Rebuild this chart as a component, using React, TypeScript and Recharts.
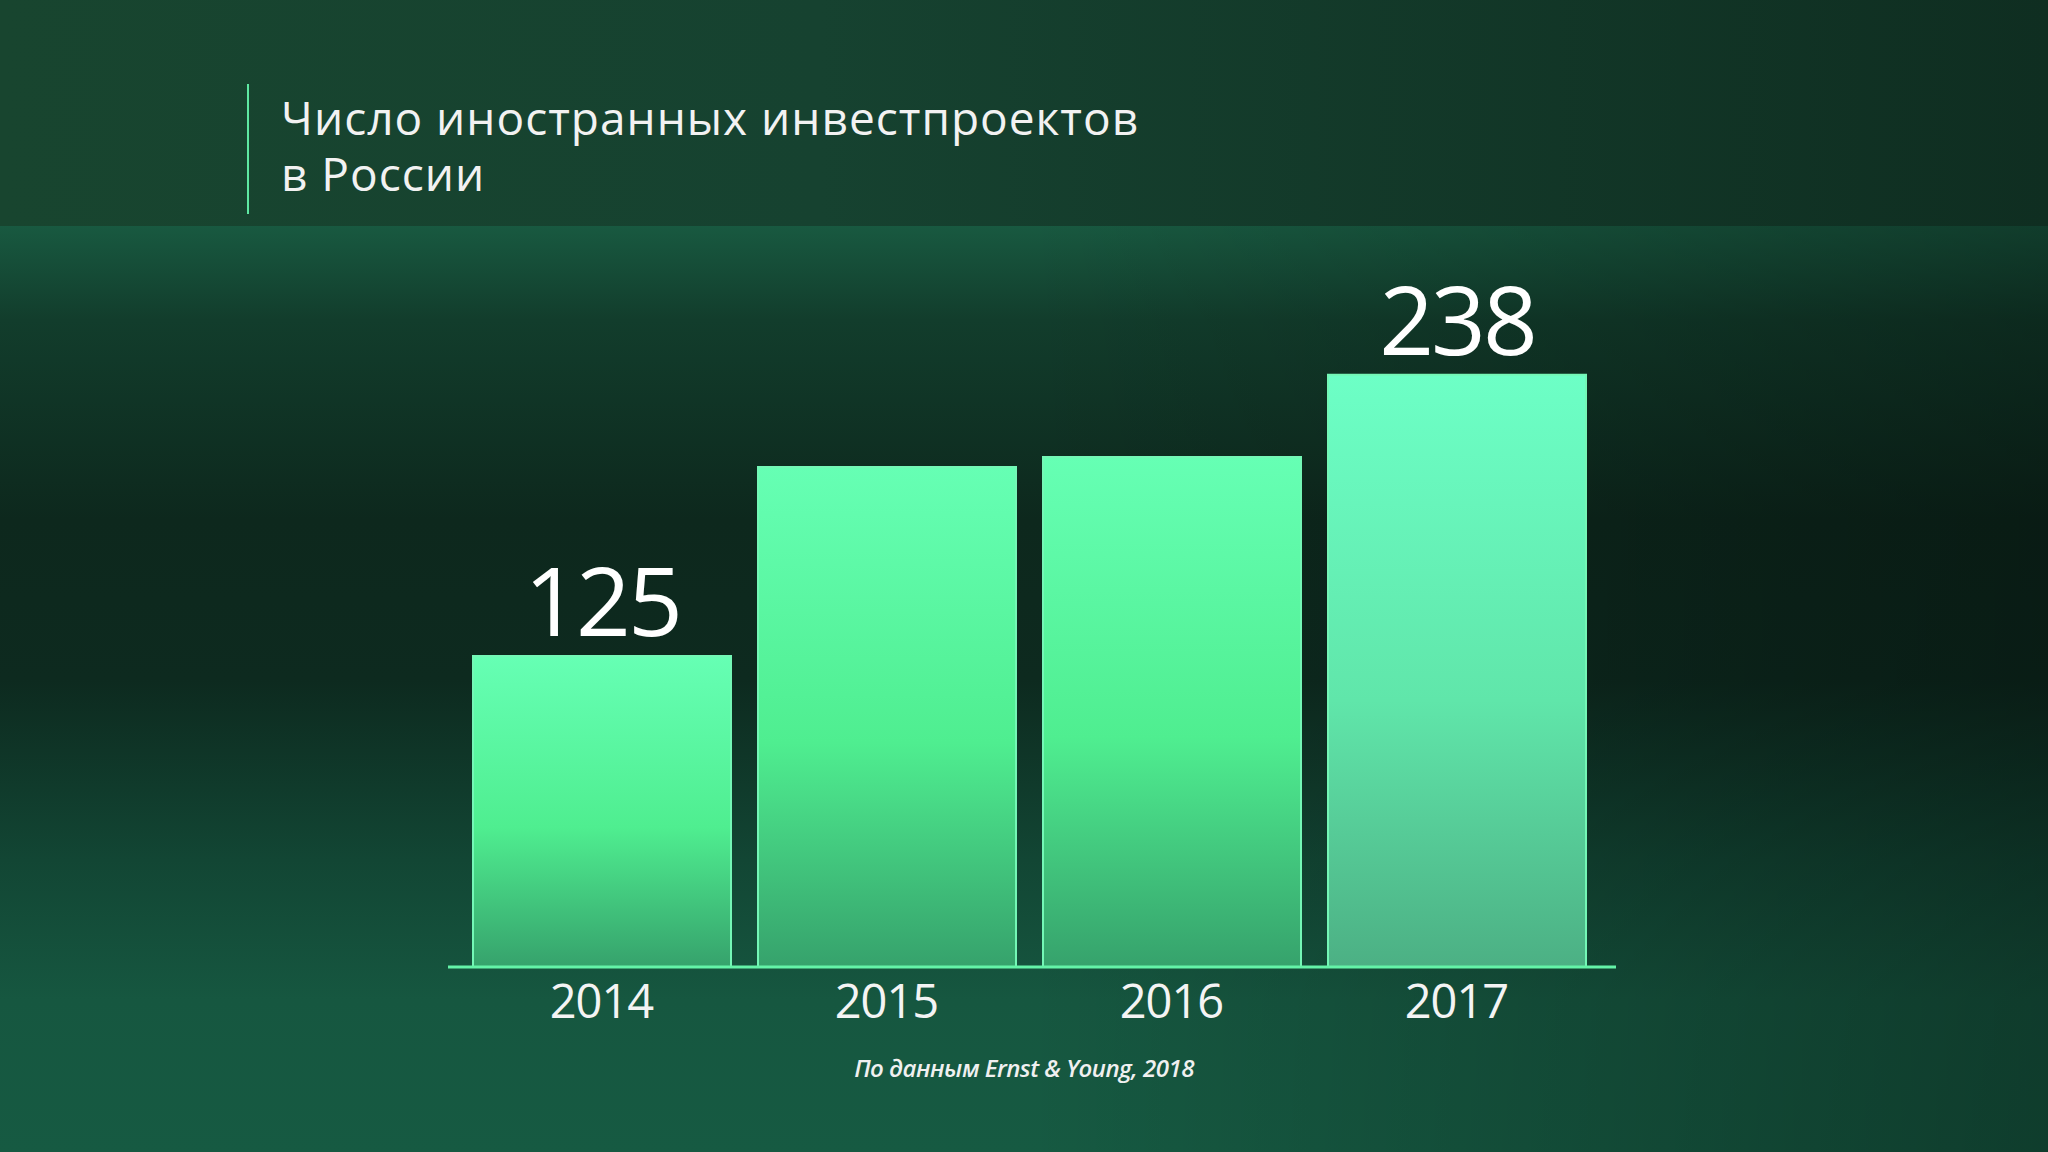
import { BarChart, Bar, XAxis, YAxis, LabelList, Cell } from "recharts";

// Число иностранных инвестпроектов в России (EY, 2018)
const years = ["2014", "2015", "2016", "2017"];
const projects = [125, 201, 205, 238];
const labeledYears = ["2014", "2017"];

const data = years.map((year, i) => ({ year, count: projects[i] }));

const FONT = "'Open Sans', Roboto, sans-serif";

function ValueLabel(props: any) {
  const { x, y, width, value, index } = props;
  if (!labeledYears.includes(years[index])) return null;
  return (
    <text
      x={x + width / 2}
      y={y - 20}
      textAnchor="middle"
      fill="#ffffff"
      fontSize={96}
      letterSpacing={-3}
      fontFamily={FONT}
    >
      {value}
    </text>
  );
}

export default function App() {
  return (
    <div
      style={{
        position: "absolute",
        left: 0,
        top: 0,
        width: 2048,
        height: 1152,
        overflow: "hidden",
        background:
          "linear-gradient(to right, rgba(0,0,0,0) 50%, rgba(0,0,0,0.32) 100%), linear-gradient(to bottom, #1d6c4d 0px, #1a6146 200px, #123d2c 320px, #0d281d 520px, #0d2a1f 680px, #124634 860px, #165740 1000px, #165a42 1152px)",
        fontFamily: FONT,
      }}
    >
      {/* title band */}
      <div
        style={{
          position: "absolute",
          left: 0,
          top: 0,
          width: 2048,
          height: 226,
          background:
            "linear-gradient(to right, #18452f 0%, #164230 40%, #0f2e21 100%)",
        }}
      />
      <div
        style={{
          position: "absolute",
          left: 247,
          top: 84,
          width: 2,
          height: 130,
          background: "#5ee8a2",
        }}
      />
      <div
        style={{
          position: "absolute",
          left: 281,
          top: 89,
          color: "#f2f2f2",
          fontSize: 46,
          letterSpacing: 1,
          lineHeight: "56px",
          fontWeight: 500,
        }}
      >
        Число иностранных инвестпроектов
        <br />в России
      </div>

      <div style={{ position: "absolute", left: 0, top: 0 }}>
        <BarChart
          width={2048}
          height={1152}
          data={data}
          margin={{ top: 340, right: 432, bottom: 105, left: 448 }}
        >
          <defs>
            <linearGradient id="barFill" x1="0" y1="0" x2="0" y2="1">
              <stop offset="0%" stopColor="#66ffb4" />
              <stop offset="55%" stopColor="#4fee90" />
              <stop offset="100%" stopColor="#36a26c" />
            </linearGradient>
            <linearGradient id="barFillLast" x1="0" y1="0" x2="0" y2="1">
              <stop offset="0%" stopColor="#6dffc6" />
              <stop offset="55%" stopColor="#60e6aa" />
              <stop offset="100%" stopColor="#4cb084" />
            </linearGradient>
          </defs>
          <YAxis hide domain={[0, 252]} />
          <XAxis
            dataKey="year"
            height={80}
            padding={{ left: 11, right: 17 }}
            tickLine={false}
            axisLine={{ stroke: "#64f3a8", strokeWidth: 3 }}
            tickMargin={12}
            tick={{ fill: "#f4f4f4", fontSize: 47, fontFamily: FONT, letterSpacing: -1 }}
          />
          <Bar
            dataKey="count"
            barSize={258}
            stroke="#74f7b6"
            strokeWidth={2}
            isAnimationActive={false}
          >
            {data.map((d, i) => (
              <Cell
                key={d.year}
                fill={i === data.length - 1 ? "url(#barFillLast)" : "url(#barFill)"}
              />
            ))}
            <LabelList dataKey="count" content={<ValueLabel />} />
          </Bar>
        </BarChart>
      </div>

      <div
        style={{
          position: "absolute",
          left: 0,
          width: 2048,
          top: 1051,
          textAlign: "center",
          color: "#f0f0f0",
          fontSize: 24,
          fontWeight: 600,
          fontStyle: "italic",
          letterSpacing: -0.5,
        }}
      >
        По данным Ernst &amp; Young, 2018
      </div>
    </div>
  );
}
